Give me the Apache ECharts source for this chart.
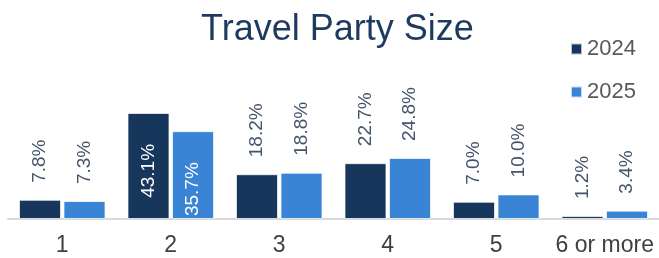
<!DOCTYPE html>
<html>
<head>
<meta charset="utf-8">
<script src="https://cdn.jsdelivr.net/npm/echarts@6/dist/echarts.min.js"></script>
<style>
  html, body { margin: 0; padding: 0; background: #fff; }
  #chart { width: 659px; height: 258px; }
</style>
</head>
<body>
<div id="chart"></div>
<script>
// 出行人数分布
const categories = ['1', '2', '3', '4', '5', '6 or more']
const years = ['2024', '2025']
const values2024 = [7.8, 43.1, 18.2, 22.7, 7.0, 1.2]
const values2025 = [7.3, 35.7, 18.8, 24.8, 10.0, 3.4]

const font = "'Liberation Sans', Arial, sans-serif"

// 高的柱子把标签放到柱子里面
function buildData(values) {
  return values.map(function (v) {
    if (v > 30) {
      return {
        value: v,
        label: {
          position: 'insideTop',
          align: 'right',
          verticalAlign: 'middle',
          offset: [-14, 0],
          color: '#ffffff'
        }
      }
    }
    return v
  })
}

function makeSeries(name, values, color) {
  return {
    name: name,
    type: 'bar',
    barWidth: 42,
    barGap: '6%',
    itemStyle: {
      color: color,
      borderColor: 'rgba(255,255,255,0.7)',
      borderWidth: 1
    },
    label: {
      show: true,
      position: 'top',
      rotate: 90,
      align: 'left',
      verticalAlign: 'middle',
      distance: 17,
      fontFamily: font,
      fontSize: 19,
      color: '#44546A',
      formatter: function (p) { return p.value.toFixed(1) + '%' }
    },
    data: buildData(values)
  }
}

const myChart = echarts.init(document.getElementById('chart'))
myChart.setOption({
  animation: false,
  title: {
    text: 'Travel Party Size',
    left: 201,
    top: 12,
    padding: 0,
    textStyle: {
      fontFamily: font,
      fontWeight: 'normal',
      fontSize: 36,
      color: '#1F3A5F'
    }
  },
  legend: {
    orient: 'vertical',
    left: 570,
    top: 38,
    itemWidth: 11,
    itemHeight: 11,
    itemGap: 21,
    padding: 0,
    icon: 'rect',
    data: years,
    textStyle: {
      fontFamily: font,
      fontSize: 22,
      color: '#595959'
    }
  },
  grid: {
    left: 8,
    right: 0,
    top: 96,
    bottom: 39
  },
  xAxis: {
    type: 'category',
    data: categories,
    axisTick: { show: false },
    axisLine: {
      lineStyle: { color: '#D9D9D9', width: 2 }
    },
    axisLabel: {
      interval: 0,
      margin: 15,
      fontFamily: font,
      fontSize: 23,
      color: '#404040'
    }
  },
  yAxis: {
    type: 'value',
    min: 0,
    max: 50,
    show: false,
    splitLine: { show: false }
  },
  series: [
    makeSeries(years[0], values2024, '#16365C'),
    makeSeries(years[1], values2025, '#3A84D6')
  ]
})
</script>
</body>
</html>
